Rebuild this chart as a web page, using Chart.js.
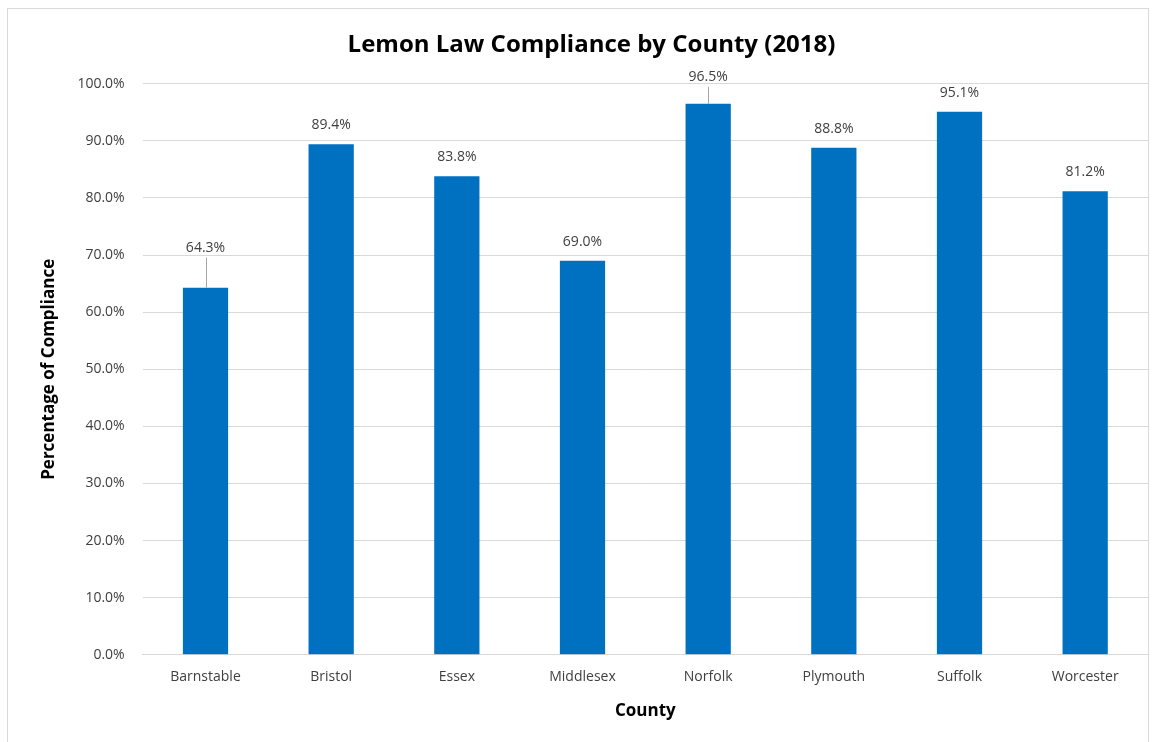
<!DOCTYPE html>
<html>
<head>
<meta charset="utf-8">
<script src="https://cdn.jsdelivr.net/npm/chart.js@4"></script>
<style>
  html, body { margin: 0; padding: 0; background: #fff; }
  #wrap { width: 1163px; height: 742px; position: relative; }
</style>
</head>
<body>
<div id="wrap"><canvas id="chart" width="1163" height="742"></canvas></div>
<script>
// Chart data
const counties = ['Barnstable', 'Bristol', 'Essex', 'Middlesex', 'Norfolk', 'Plymouth', 'Suffolk', 'Worcester'];
const compliance = [64.3, 89.4, 83.8, 69.0, 96.5, 88.8, 95.1, 81.2];
const yTicks = [0, 10, 20, 30, 40, 50, 60, 70, 80, 90, 100];

const FONT = '"Open Sans", "Noto Sans", sans-serif';

// Excel-style frame around the chart
const framePlugin = {
  id: 'frame',
  beforeDraw(chart) {
    const ctx = chart.ctx;
    ctx.save();
    ctx.strokeStyle = '#d9d9d9';
    ctx.lineWidth = 1;
    ctx.strokeRect(7.5, 8.5, 1141, 760);
    ctx.restore();
  }
};

// Value labels above bars, with leader lines where the label was moved up
const valueLabels = {
  id: 'valueLabels',
  afterDatasetsDraw(chart, args, opts) {
    const ctx = chart.ctx;
    const meta = chart.getDatasetMeta(0);
    ctx.save();
    ctx.font = '14px ' + FONT;
    ctx.fillStyle = '#404040';
    ctx.textAlign = 'center';
    ctx.textBaseline = 'middle';
    meta.data.forEach((bar, i) => {
      const lift = opts.lift[i] || 19;
      const y = bar.y - lift;
      if (opts.lift[i]) {
        ctx.strokeStyle = '#a6a6a6';
        ctx.lineWidth = 1;
        ctx.beginPath();
        ctx.moveTo(Math.round(bar.x) + 0.5, y + 10);
        ctx.lineTo(Math.round(bar.x) + 0.5, bar.y);
        ctx.stroke();
      }
      ctx.fillText(compliance[i].toFixed(1) + '%', bar.x, y);
    });
    ctx.restore();
  }
};

new Chart(document.getElementById('chart'), {
  type: 'bar',
  data: {
    labels: counties,
    datasets: [{
      data: compliance,
      backgroundColor: '#0070c0',
      categoryPercentage: 0.36,
      barPercentage: 1
    }]
  },
  options: {
    responsive: false,
    animation: false,
    layout: { padding: { left: 35, right: 15, top: 0, bottom: 17 } },
    plugins: {
      legend: { display: false },
      tooltip: { enabled: false },
      title: {
        display: true,
        text: 'Lemon Law Compliance by County (2018)',
        color: '#000',
        font: { family: FONT, size: 24, weight: 'bold' },
        padding: { top: 31, bottom: 24 }
      },
      valueLabels: { lift: { 0: 40, 4: 27 } }
    },
    scales: {
      x: {
        grid: { display: false, drawTicks: false },
        border: { color: '#d9d9d9' },
        ticks: { color: '#404040', font: { family: FONT, size: 14 }, padding: 14 },
        title: {
          display: true, text: 'County', color: '#000',
          font: { family: FONT, size: 17, weight: 'bold' }, padding: { top: 1 }
        }
      },
      y: {
        min: 0,
        max: 100,
        afterBuildTicks(scale) { scale.ticks = yTicks.map(v => ({ value: v })); },
        grid: { color: '#d9d9d9', drawTicks: false },
        border: { display: false },
        ticks: {
          color: '#404040', font: { family: FONT, size: 14 }, padding: 18,
          callback: v => v.toFixed(1) + '%'
        },
        title: {
          display: true, text: 'Percentage of Compliance', color: '#000',
          font: { family: FONT, size: 17, weight: 'bold' }, padding: { bottom: 0 }
        }
      }
    }
  },
  plugins: [framePlugin, valueLabels]
});
</script>
</body>
</html>
